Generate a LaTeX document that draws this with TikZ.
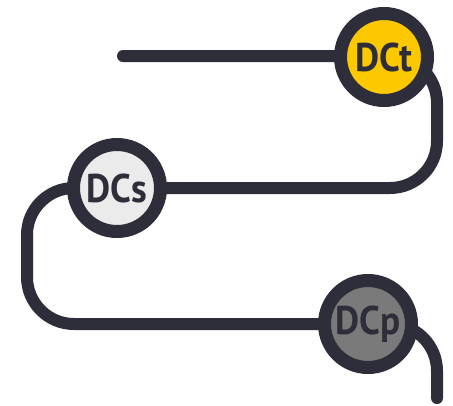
\documentclass[tikz,border=0pt]{standalone}
\usepackage{fontspec}
\setmainfont{PT Sans}
\newfontfamily\stationfont[FakeStretch=0.93]{PT Sans}
\usepackage{xcolor}
\definecolor{inkdark}{HTML}{2E2E3A}
\definecolor{dcyellow}{HTML}{FCC800}
\definecolor{dclight}{HTML}{EBEBEB}
\definecolor{dcgray}{HTML}{7A7A7A}

\begin{document}
\begin{tikzpicture}[x=1pt, y=-1pt,
    station/.style={draw=inkdark, circle, line width=13pt, minimum size=87pt,
        inner sep=0pt, text=inkdark, font=\stationfont\bfseries\fontsize{40}{42}\selectfont}]
    \useasboundingbox (0,0) rectangle (453,405);

    % Track
    \coordinate (start) at (123,56);
    \coordinate (finish) at (437,398);
    \draw[inkdark, line width=12pt, line cap=round, rounded corners=47pt]
        (start) -- (437,56) -- (437,188) -- (27,188) -- (27,324)
        -- (437,324) -- (finish);

    % Stations
    \node[station, fill=dcyellow] (dct) at (384,57) {DCt};
    \node[station, fill=dclight] (dcs) at (117,188) {DCs};
    \node[station, fill=dcgray] (dcp) at (368,324) {DCp};
\end{tikzpicture}
\end{document}
